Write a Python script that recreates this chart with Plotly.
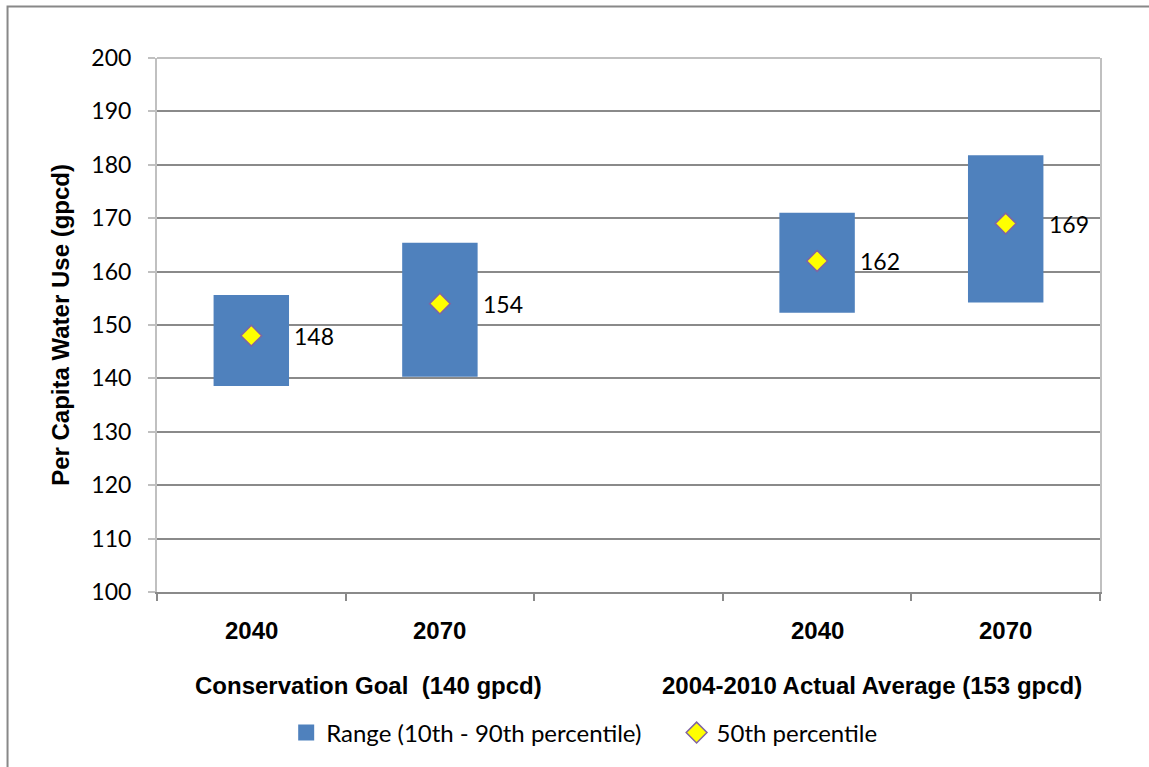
import plotly.graph_objects as go

# Per capita water use projections (gpcd)
slots = [0, 1, 3, 4]
year_labels = ["2040", "2070", "2040", "2070"]
p10 = [138.6, 140.3, 152.3, 154.2]
p90 = [155.6, 165.4, 171.0, 181.8]
p50 = [148, 154, 162, 169]

group_labels = ["Conservation Goal  (140 gpcd)", "2004-2010 Actual Average (153 gpcd)"]
group_pos = [0.62, 3.29]

y_ticks = list(range(100, 201, 10))

FONT = "Lato, Carlito, Calibri, sans-serif"
BOLD_FONT = "Liberation Sans, Arial, sans-serif"
BLUE = "#4F81BD"
GRID = "#8A8A8A"
LIGHT = "#C0C0C0"

fig = go.Figure()

fig.add_trace(go.Bar(
    x=slots,
    y=[hi - lo for lo, hi in zip(p10, p90)],
    base=p10,
    width=0.4,
    marker=dict(color=BLUE, line=dict(width=0)),
    name="Range (10th - 90th percentile)",
    showlegend=False,
    hoverinfo="skip",
))
# legend swatch for the range bars (larger square than the default bar icon)
fig.add_trace(go.Scatter(
    x=[None], y=[None], mode="markers",
    marker=dict(symbol="square", size=18, color=BLUE),
    name="Range (10th - 90th percentile)",
    legend="legend",
))

fig.add_trace(go.Scatter(
    x=slots,
    y=p50,
    mode="markers",
    marker=dict(symbol="diamond", size=16, color="#FFFF00",
                line=dict(color="#8064A2", width=1.5)),
    name="50th percentile",
    legend="legend2",
))

annotations = []
for s, v in zip(slots, p50):
    annotations.append(dict(x=s, y=v, xref="x", yref="y", text=str(v),
                            showarrow=False, xanchor="left", xshift=41,
                            font=dict(family=FONT, size=23, color="#000000")))
for s, lab in zip(slots, year_labels):
    annotations.append(dict(x=s, y=-0.073, xref="x", yref="paper", text="<b>%s</b>" % lab,
                            showarrow=False, yanchor="middle",
                            font=dict(family=BOLD_FONT, size=24, color="#000000")))
for gx, lab in zip(group_pos, group_labels):
    annotations.append(dict(x=gx, y=-0.176, xref="x", yref="paper", text="<b>%s</b>" % lab,
                            showarrow=False, yanchor="middle",
                            font=dict(family=BOLD_FONT, size=24, color="#000000")))
annotations.append(dict(x=-0.103, y=0.5, xref="paper", yref="paper",
                        text="<b>Per Capita Water Use (gpcd)</b>", textangle=-90,
                        showarrow=False, xanchor="center", yanchor="middle",
                        font=dict(family=BOLD_FONT, size=24, color="#000000")))

shapes = [
    # top border of the plot area
    dict(type="line", xref="paper", yref="paper", x0=0, x1=1, y0=1, y1=1,
         line=dict(color=LIGHT, width=2), layer="above"),
    # chart frame
    dict(type="rect", xref="paper", yref="paper", x0=-0.1585, x1=1.07, y0=-0.36, y1=1.0964,
         line=dict(color="#888888", width=2), layer="above"),
]

legend_style = dict(orientation="h", yanchor="middle", y=-0.264, xanchor="left",
                    font=dict(family=FONT, size=24, color="#000000"),
                    itemsizing="trace", itemwidth=30,
                    bgcolor="rgba(0,0,0,0)", borderwidth=0)

fig.update_layout(
    width=1149, height=767,
    margin=dict(l=157, r=49, t=58, b=175),
    paper_bgcolor="white", plot_bgcolor="white",
    font=dict(family=FONT, size=23, color="#000000"),
    showlegend=True,
    legend=dict(x=0.137, **legend_style),
    legend2=dict(x=0.551, **legend_style),
    annotations=annotations,
    shapes=shapes,
    bargap=0.6,
)

fig.update_xaxes(
    range=[-0.5, 4.5], tickvals=[-0.5, 0.5, 1.5, 2.5, 3.5, 4.5],
    showticklabels=False, showgrid=False, zeroline=False,
    showline=True, linecolor=GRID, linewidth=1.5,
    ticks="outside", ticklen=7, tickcolor=GRID, tickwidth=1.5,
)
fig.update_yaxes(
    range=[100, 200], tickvals=y_ticks, showgrid=True, gridcolor=GRID, gridwidth=1.5,
    zeroline=False, showline=True, mirror=True, linecolor=LIGHT, linewidth=2,
    ticks="outside", ticklen=7, tickcolor=LIGHT, tickwidth=1.5,
    ticklabelstandoff=12,
    tickfont=dict(family=FONT, size=23, color="#000000"),
)

fig.write_html("out.html")
